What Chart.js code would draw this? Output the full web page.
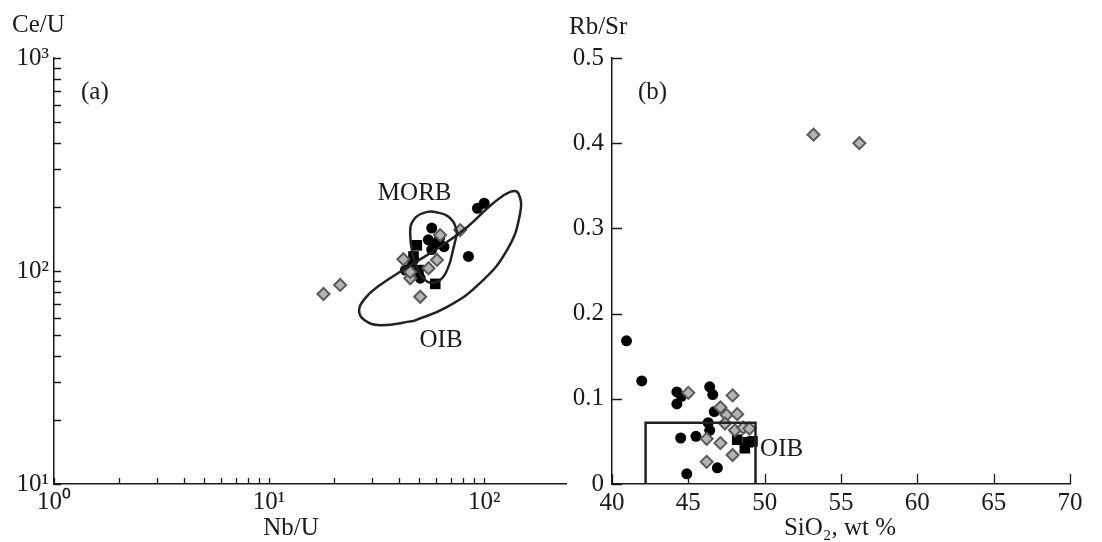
<!DOCTYPE html>
<html>
<head>
<meta charset="utf-8">
<script src="https://cdn.jsdelivr.net/npm/chart.js@4.4.1/dist/chart.umd.min.js"></script>
<style>
  html, body { margin: 0; padding: 0; background: #fff; }
  #wrap { position: relative; width: 1102px; height: 542px; }
  canvas { position: absolute; left: 0; top: 0; }
</style>
</head>
<body>
<div id="wrap">
  <canvas id="chart_a" width="1102" height="542"></canvas>
  <canvas id="chart_b" width="1102" height="542"></canvas>
</div>
<script>
// ---- panel (a): Ce/U vs Nb/U ----
const aCircleNbU = [93, 100, 57, 55, 60, 65, 57, 62, 84.5, 50.4, 43, 47, 46];
const aCircleCeU = [197, 208, 159, 140, 135, 130, 126, 143, 117, 92.5, 101, 113, 105];
const aSquareNbU = [48.6, 46.9, 59.2, 49.5];
const aSquareCeU = [132, 117, 87, 101];
const aDiamondNbU = [17.9, 21.4, 50.4, 42.1, 45.3, 55.1, 60.3, 77.3, 62.4, 45.3];
const aDiamondCeU = [78, 86, 75.7, 113.5, 92.5, 103, 112.7, 155.6, 147.5, 99];
// field outlines (closed, start/end on a flat stretch)
const morbNbU = [74.9, 71, 62.4, 52, 46.3, 45.3, 46.3, 49.3, 54.9, 62.4, 68, 71.7, 74.9];
const morbCeU = [152, 173, 187, 187, 170, 147.5, 123, 101, 88.7, 90.8, 104, 126, 152];
const oibNbU = [46.8, 67.3, 95.8, 128, 147, 144, 132, 110, 83.4, 62.4, 43.8, 31.8, 28.0, 26.2, 27.7, 32.8, 46.8];
const oibCeU = [58.2, 67.8, 87.9, 126, 187, 232, 235, 208, 161, 130, 104, 84.1, 74.6, 65.6, 58.9, 55.7, 58.2];
const aXTicks = [1, 10, 100];
const aXLabels = ['10⁰', '10¹', '10²'];
const aYTicks = [10, 100, 1000];
const aYLabels = ['10¹', '10²', '10³'];

// ---- panel (b): Rb/Sr vs SiO2 ----
const bCircleSiO2 = [40.95, 41.95, 44.25, 44.55, 44.25, 46.4, 46.6, 46.7, 46.3, 46.4, 44.5, 45.5, 46.9, 44.9];
const bCircleRbSr = [0.168, 0.121, 0.108, 0.103, 0.094, 0.114, 0.105, 0.085, 0.072, 0.063, 0.054, 0.056, 0.019, 0.012];
const bSquareSiO2 = [48.2, 48.9, 48.7, 49.2];
const bSquareRbSr = [0.052, 0.049, 0.042, 0.050];
const bDiamondSiO2 = [45.0, 47.9, 47.1, 47.5, 48.2, 48.05, 48.6, 49.0, 46.2, 47.1, 47.9, 46.2, 47.4, 53.2, 56.2];
const bDiamondRbSr = [0.107, 0.104, 0.090, 0.081, 0.082, 0.063, 0.066, 0.065, 0.053, 0.048, 0.034, 0.026, 0.071, 0.410, 0.400];
const oibBoxSiO2 = [42.2, 42.2, 49.4, 49.4];
const oibBoxRbSr = [0, 0.072, 0.072, 0];
const bXTicks = [40, 45, 50, 55, 60, 65, 70];
const bYTicks = [0, 0.1, 0.2, 0.3, 0.4, 0.5];

const INK = '#1a1a1a';
const FONT_FAMILY = '"Liberation Serif", "Times New Roman", serif';
const FONT_SIZE = 25;

function pts(xs, ys) {
  return xs.map((x, i) => ({ x: x, y: ys[i] }));
}

function markers(xs, ys, style) {
  const base = { data: pts(xs, ys), showLine: false };
  if (style === 'circle') {
    return Object.assign(base, { pointStyle: 'circle', pointRadius: 5.5, backgroundColor: '#000', borderColor: '#000', borderWidth: 0 });
  }
  if (style === 'square') {
    return Object.assign(base, { pointStyle: 'rect', pointRadius: 7.5, backgroundColor: '#000', borderColor: '#000', borderWidth: 0 });
  }
  return Object.assign(base, { pointStyle: 'rectRot', pointRadius: 6, backgroundColor: '#b4b4b4', borderColor: '#5a5a5a', borderWidth: 2 });
}

function outline(xs, ys, tension) {
  return {
    data: pts(xs, ys),
    showLine: true,
    pointRadius: 0,
    borderColor: '#222',
    borderWidth: 2.5,
    tension: tension,
    fill: false,
  };
}

// inward tick marks and the free text of each panel
const panelDecor = {
  id: 'panelDecor',
  afterDraw(chart, args, opts) {
    const ctx = chart.ctx;
    const xs = chart.scales.x;
    const ys = chart.scales.y;
    const area = chart.chartArea;
    ctx.save();
    ctx.strokeStyle = INK;
    ctx.lineWidth = 1.3;
    ctx.beginPath();
    for (const v of opts.xMarks) {
      const px = Math.round(xs.getPixelForValue(v)) + 0.5;
      ctx.moveTo(px, area.bottom);
      ctx.lineTo(px, area.bottom - opts.xLen);
    }
    for (const v of opts.yMarks) {
      const py = Math.round(ys.getPixelForValue(v)) + 0.5;
      ctx.moveTo(area.left, py);
      ctx.lineTo(area.left + opts.yLen, py);
    }
    ctx.stroke();

    ctx.fillStyle = INK;
    ctx.font = FONT_SIZE + 'px ' + FONT_FAMILY;
    ctx.textBaseline = 'middle';
    for (const n of opts.notes) {
      ctx.textAlign = n.align || 'left';
      const px = n.inData ? xs.getPixelForValue(n.x) : n.x;
      const py = n.inData ? ys.getPixelForValue(n.y) : n.y;
      ctx.fillText(n.text, px, py);
    }
    ctx.restore();
  },
};

function axisOpts(type, min, max, tickVals, labelFn, isY, boxSize, pad) {
  return {
    type: type,
    min: min,
    max: max,
    grid: { display: true, drawOnChartArea: false, drawTicks: false },
    border: { display: true, color: INK, width: 1.5 },
    afterBuildTicks: (s) => { s.ticks = tickVals.map((v) => ({ value: v })); },
    afterFit: (s) => { if (isY) { s.width = boxSize; } else { s.height = boxSize; } },
    ticks: {
      autoSkip: false,
      maxRotation: 0,
      padding: pad,
      color: INK,
      font: { family: FONT_FAMILY, size: FONT_SIZE },
      callback: labelFn,
    },
  };
}

function baseOptions(padding, scales, decor) {
  return {
    responsive: false,
    animation: false,
    events: [],
    layout: { padding: padding },
    plugins: {
      legend: { display: false },
      tooltip: { enabled: false },
      title: { display: false },
      panelDecor: decor,
    },
    scales: scales,
  };
}

// minor ticks of the log axes
const aXMarks = [];
const aYMarks = [];
for (const dec of [1, 10]) {
  for (let k = 1; k <= 9; k++) aXMarks.push(k * dec);
}
aXMarks.push(100);
for (const dec of [10, 100]) {
  for (let k = 1; k <= 9; k++) aYMarks.push(k * dec);
}
aYMarks.push(1000);

new Chart(document.getElementById('chart_a'), {
  type: 'scatter',
  data: {
    datasets: [
      outline(oibNbU, oibCeU, 0.45),
      outline(morbNbU, morbCeU, 0.45),
      markers(aDiamondNbU, aDiamondCeU, 'diamond'),
      markers(aCircleNbU, aCircleCeU, 'circle'),
      markers(aSquareNbU, aSquareCeU, 'square'),
    ],
  },
  plugins: [panelDecor],
  options: baseOptions(
    { left: 0, right: 536, top: 58, bottom: 0 },
    {
      x: axisOpts('logarithmic', 1, 240, aXTicks, (v) => aXLabels[aXTicks.indexOf(v)], false, 58, 3),
      y: axisOpts('logarithmic', 10, 1000, aYTicks, (v) => aYLabels[aYTicks.indexOf(v)], true, 54, 5),
    },
    {
      xMarks: aXMarks, yMarks: aYMarks, xLen: 6, yLen: 7,
      notes: [
        { text: 'Ce/U', x: 12, y: 25 },
        { text: '(a)', x: 81, y: 92 },
        { text: 'Nb/U', x: 291, y: 528, align: 'center' },
        { text: 'MORB', x: 47.5, y: 232, inData: true, align: 'center' },
        { text: 'OIB', x: 63, y: 47, inData: true, align: 'center' },
      ],
    }
  ),
});

new Chart(document.getElementById('chart_b'), {
  type: 'scatter',
  data: {
    datasets: [
      outline(oibBoxSiO2, oibBoxRbSr, 0),
      markers(bDiamondSiO2, bDiamondRbSr, 'diamond'),
      markers(bCircleSiO2, bCircleRbSr, 'circle'),
      markers(bSquareSiO2, bSquareRbSr, 'square'),
    ],
  },
  plugins: [panelDecor],
  options: baseOptions(
    { left: 556, right: 32, top: 58, bottom: 0 },
    {
      x: axisOpts('linear', 40, 70, bXTicks, (v) => String(v), false, 58, 4),
      y: axisOpts('linear', 0, 0.5, bYTicks, (v) => (v === 0 ? '0' : v.toFixed(1)), true, 56, 8),
    },
    {
      xMarks: bXTicks, yMarks: bYTicks, xLen: 10, yLen: 10,
      notes: [
        { text: 'Rb/Sr', x: 569, y: 27 },
        { text: '(b)', x: 638, y: 92 },
        { text: 'SiO₂, wt %', x: 840, y: 528, align: 'center' },
        { text: 'OIB', x: 49.7, y: 0.040, inData: true },
      ],
    }
  ),
});
</script>
</body>
</html>
